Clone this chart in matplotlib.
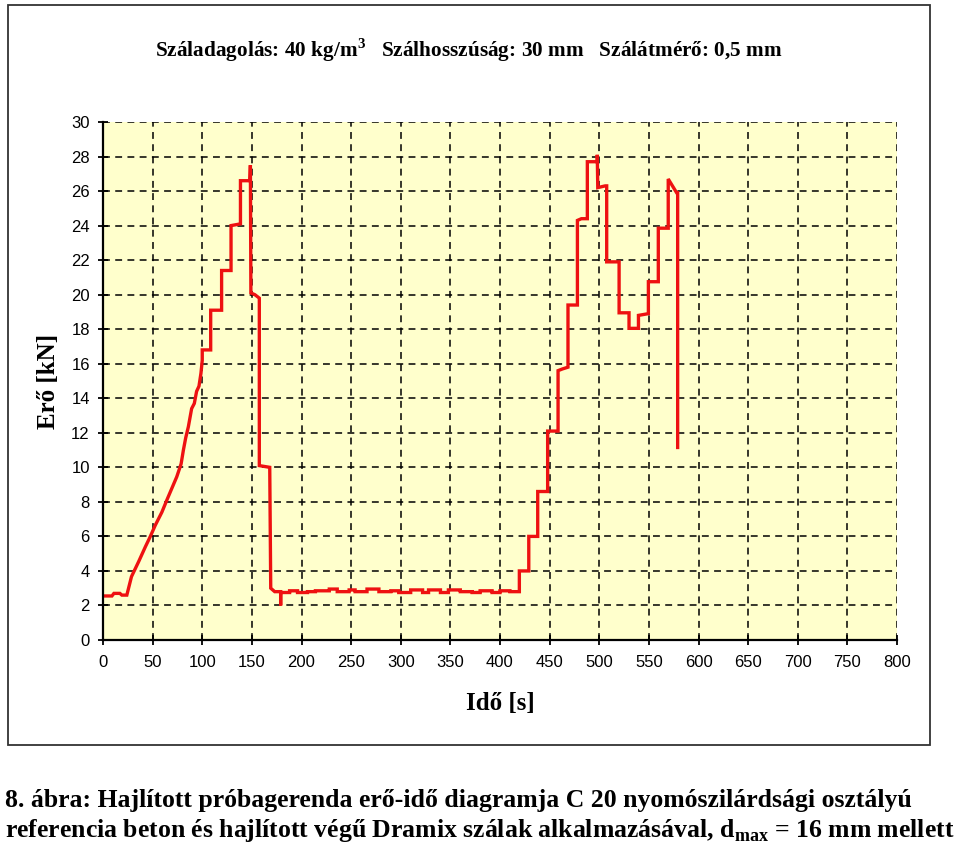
import matplotlib
matplotlib.use("Agg")
import matplotlib.pyplot as plt
from matplotlib.patches import Rectangle

TIME = [
    0, 9, 11, 17, 19, 24, 28.7, 31, 36, 42.7, 47.7, 52.7, 59.3, 64.3, 71, 74.3,
    78.7, 81, 83.3, 86, 89.3, 92, 94.3, 96.7, 98.7, 100, 100, 108.5, 108.5,
    119.5, 119.5, 129, 129, 138.5, 138.5, 148, 148.5, 149, 153, 157.5, 157.5,
    168, 169, 173, 179, 179, 179,
    188, 188, 196, 196, 206, 206, 214, 214, 228, 228, 236, 236, 248, 248, 254,
    254, 266, 266, 278, 278, 290, 290, 298, 298, 310, 310, 322, 322, 328, 328,
    340, 340, 348, 348, 360, 360, 372, 372, 380, 380, 392, 392, 400, 400, 410,
    410, 419.5,
    419.5, 429, 429, 438, 438, 448, 448, 458.5, 458.5, 463, 468.5, 468.5, 478,
    478, 482, 488, 488, 498, 498, 498.5, 506, 507.5, 507.5, 520, 520, 530, 530,
    539.5, 539.5, 549.5, 549.5, 559.5, 559.5, 569.5, 569.5, 578, 579, 579,
]
FORCE = [
    2.55, 2.55, 2.7, 2.7, 2.6, 2.6, 3.67, 3.95, 4.55, 5.4, 6.0, 6.65, 7.4, 8.1,
    9.0, 9.45, 10.2, 11.0, 11.7, 12.35, 13.4, 13.7, 14.4, 14.7, 15.45, 16.2,
    16.8, 16.8, 19.1, 19.1, 21.4, 21.4, 24.0, 24.1, 26.6, 26.6, 27.5, 20.1,
    20.0, 19.8, 10.1, 10.0, 3.0, 2.8, 2.8, 2.0, 2.75,
    2.75, 2.85, 2.85, 2.75, 2.75, 2.8, 2.8, 2.85, 2.85, 2.95, 2.95, 2.8, 2.8,
    2.9, 2.9, 2.8, 2.8, 2.95, 2.95, 2.8, 2.8, 2.85, 2.85, 2.75, 2.75, 2.9, 2.9,
    2.75, 2.75, 2.9, 2.9, 2.75, 2.75, 2.9, 2.9, 2.8, 2.8, 2.75, 2.75, 2.85,
    2.85, 2.75, 2.75, 2.85, 2.85, 2.8, 2.8,
    4.0, 4.0, 6.0, 6.0, 8.6, 8.6, 12.1, 12.1, 15.6, 15.7, 15.8, 19.4, 19.4,
    24.3, 24.4, 24.4, 27.7, 27.7, 28.1, 26.2, 26.3, 26.3, 21.9, 21.9, 18.95,
    18.95, 18.05, 18.05, 18.8, 18.9, 20.75, 20.75, 23.85, 23.85, 26.7, 25.9,
    25.9, 11.15,
]

X_TICKS = list(range(0, 801, 50))
Y_TICKS = list(range(0, 31, 2))

TITLE = r"Száladagolás: 40 kg/m$^\mathregular{3}$   Szálhosszúság: 30 mm   Szálátmérő: 0,5 mm"
CAPTION_1 = "8. ábra: Hajlított próbagerenda erő-idő diagramja C 20 nyomószilárdsági osztályú"
CAPTION_2 = r"referencia beton és hajlított végű Dramix szálak alkalmazásával, d$_\mathregular{max}$ = 16 mm mellett"

SERIF = "Liberation Serif"
SANS = "Liberation Sans"

fig = plt.figure(figsize=(9.6, 8.43), dpi=100)

# chart frame
fig.patches.append(Rectangle((8 / 960, 1 - 745 / 843), 922 / 960, 740 / 843,
                             transform=fig.transFigure, fill=False,
                             edgecolor="#333333", linewidth=1.3))

ax = fig.add_axes([103 / 960, 1 - 640 / 843, 794 / 960, 518 / 843])
ax.set_facecolor("#FFFFCC")
ax.plot(TIME, FORCE, color="#EE1111", linewidth=2.4, solid_joinstyle="miter", zorder=3)

ax.set_xlim(0, 800)
ax.set_ylim(0, 30)
ax.set_xticks(X_TICKS)
ax.set_yticks(Y_TICKS)
ax.grid(True, color="black", linestyle=(0, (4.5, 3.5)), linewidth=1.1)
ax.set_axisbelow(True)

for side in ("top", "right"):
    ax.spines[side].set_visible(False)
for side in ("left", "bottom"):
    ax.spines[side].set_linewidth(1.6)
    ax.spines[side].set_zorder(4)

ax.tick_params(direction="inout", length=7, width=1.3, labelsize=12)
ax.tick_params(axis="x", pad=7)
ax.tick_params(axis="y", pad=6)
for lbl in ax.get_xticklabels() + ax.get_yticklabels():
    lbl.set_fontfamily(SANS)

ax.set_xlabel("Idő [s]", fontfamily=SERIF, fontweight="bold", fontsize=18, labelpad=16)
ax.set_ylabel("Erő [kN]", fontfamily=SERIF, fontweight="bold", fontsize=18, labelpad=8)

fig.text(469 / 960, 1 - 50 / 843, TITLE, ha="center", va="center",
         fontfamily=SERIF, fontweight="bold", fontsize=15.3)

fig.text(5 / 960, 1 - 800 / 843, CAPTION_1, ha="left", va="center",
         fontfamily=SERIF, fontweight="bold", fontsize=18.5)
fig.text(5 / 960, 1 - 830 / 843, CAPTION_2, ha="left", va="center",
         fontfamily=SERIF, fontweight="bold", fontsize=18.5)

fig.savefig("out.png", dpi=100)
